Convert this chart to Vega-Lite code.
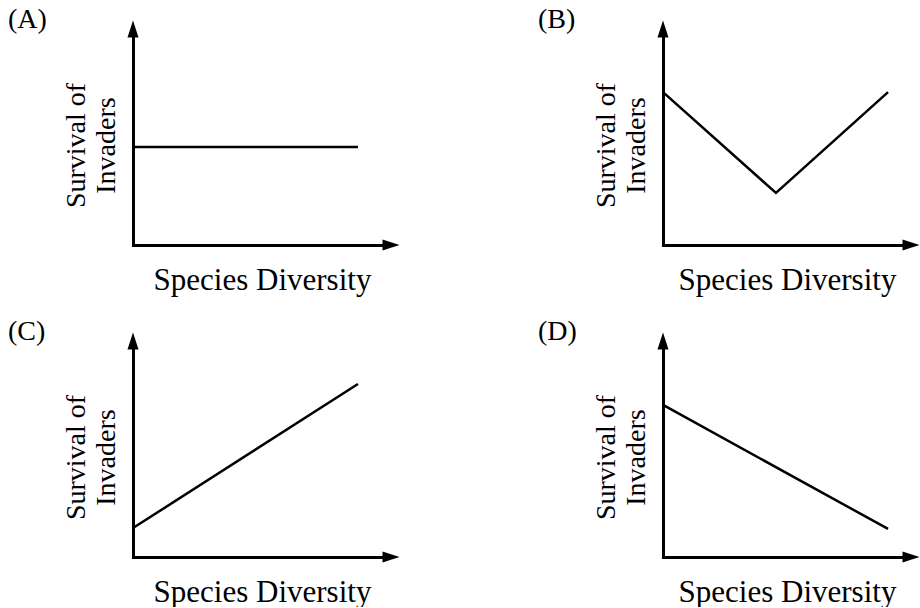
{
  "$schema": "https://vega.github.io/schema/vega-lite/v6.json",
  "background": "white",
  "padding": {"left": 8, "top": 5, "right": 0, "bottom": 0},
  "config": {
    "font": "Liberation Serif",
    "view": {"stroke": null},
    "axis": {
      "labels": false, "ticks": false, "grid": false,
      "domainColor": "black", "domainWidth": 3, "domainCap": "square",
      "titleFont": "Liberation Serif", "titleFontWeight": "normal", "titleColor": "black"
    },
    "axisX": {"titleFontSize": 31, "titlePadding": 20},
    "axisY": {"titleFontSize": 28, "titleLineHeight": 30, "titlePadding": 13, "titleY": 116},
    "title": {"anchor": "start", "frame": "group", "dx": -125, "dy": 17, "offset": 0, "fontSize": 28, "fontWeight": "normal", "font": "Liberation Serif", "color": "black", "baseline": "alphabetic"}
  },
  "data": {"values": [
    {"panel": "A", "x": 0, "y": 0.454},
    {"panel": "A", "x": 1, "y": 0.454},
    {"panel": "B", "x": 0, "y": 0.708},
    {"panel": "B", "x": 0.502, "y": 0.241},
    {"panel": "B", "x": 1, "y": 0.708},
    {"panel": "C", "x": 0, "y": 0.134},
    {"panel": "C", "x": 1, "y": 0.801},
    {"panel": "D", "x": 0, "y": 0.704},
    {"panel": "D", "x": 1, "y": 0.130}
  ]},
  "spacing": 22,
  "vconcat": [
    {"spacing": 138, "hconcat": [
      {"width": 258, "height": 216, "title": "(A)", "layer": [
        {"mark": {"type": "line", "color": "black", "strokeWidth": 2.5},
         "transform": [{"filter": "datum.panel === 'A'"}],
         "encoding": {
           "x": {"field": "x", "type": "quantitative", "scale": {"domain": [0, 1.147], "nice": false, "zero": false}, "title": "Species Diversity"},
           "y": {"field": "y", "type": "quantitative", "scale": {"domain": [0, 1], "nice": false, "zero": false}, "title": ["Survival of", "Invaders"]}}},
        {"data": {"values": [{"tip": "x"}]}, "mark": {"type": "point", "shape": "M1,0L-1,0.65L-1,-0.65Z", "filled": true, "color": "black", "opacity": 1},
         "encoding": {"x": {"datum": 1.147, "type": "quantitative"}, "y": {"datum": 0, "type": "quantitative"}, "size": {"value": 289}}},
        {"data": {"values": [{"tip": "y"}]}, "mark": {"type": "point", "shape": "M0,-1L0.65,1L-0.65,1Z", "filled": true, "color": "black", "opacity": 1},
         "encoding": {"x": {"datum": 0, "type": "quantitative"}, "y": {"datum": 1, "type": "quantitative"}, "size": {"value": 289}}}
      ]},
      {"width": 248, "height": 216, "title": "(B)", "layer": [
        {"mark": {"type": "line", "color": "black", "strokeWidth": 2.5},
         "transform": [{"filter": "datum.panel === 'B'"}],
         "encoding": {
           "x": {"field": "x", "type": "quantitative", "scale": {"domain": [0, 1.102], "nice": false, "zero": false}, "title": "Species Diversity"},
           "y": {"field": "y", "type": "quantitative", "scale": {"domain": [0, 1], "nice": false, "zero": false}, "title": ["Survival of", "Invaders"]}}},
        {"data": {"values": [{"tip": "x"}]}, "mark": {"type": "point", "shape": "M1,0L-1,0.65L-1,-0.65Z", "filled": true, "color": "black", "opacity": 1},
         "encoding": {"x": {"datum": 1.102, "type": "quantitative"}, "y": {"datum": 0, "type": "quantitative"}, "size": {"value": 289}}},
        {"data": {"values": [{"tip": "y"}]}, "mark": {"type": "point", "shape": "M0,-1L0.65,1L-0.65,1Z", "filled": true, "color": "black", "opacity": 1},
         "encoding": {"x": {"datum": 0, "type": "quantitative"}, "y": {"datum": 1, "type": "quantitative"}, "size": {"value": 289}}}
      ]}
    ]},
    {"spacing": 138, "hconcat": [
      {"width": 258, "height": 216, "title": "(C)", "layer": [
        {"mark": {"type": "line", "color": "black", "strokeWidth": 2.5},
         "transform": [{"filter": "datum.panel === 'C'"}],
         "encoding": {
           "x": {"field": "x", "type": "quantitative", "scale": {"domain": [0, 1.147], "nice": false, "zero": false}, "title": "Species Diversity"},
           "y": {"field": "y", "type": "quantitative", "scale": {"domain": [0, 1], "nice": false, "zero": false}, "title": ["Survival of", "Invaders"]}}},
        {"data": {"values": [{"tip": "x"}]}, "mark": {"type": "point", "shape": "M1,0L-1,0.65L-1,-0.65Z", "filled": true, "color": "black", "opacity": 1},
         "encoding": {"x": {"datum": 1.147, "type": "quantitative"}, "y": {"datum": 0, "type": "quantitative"}, "size": {"value": 289}}},
        {"data": {"values": [{"tip": "y"}]}, "mark": {"type": "point", "shape": "M0,-1L0.65,1L-0.65,1Z", "filled": true, "color": "black", "opacity": 1},
         "encoding": {"x": {"datum": 0, "type": "quantitative"}, "y": {"datum": 1, "type": "quantitative"}, "size": {"value": 289}}}
      ]},
      {"width": 248, "height": 216, "title": "(D)", "layer": [
        {"mark": {"type": "line", "color": "black", "strokeWidth": 2.5},
         "transform": [{"filter": "datum.panel === 'D'"}],
         "encoding": {
           "x": {"field": "x", "type": "quantitative", "scale": {"domain": [0, 1.102], "nice": false, "zero": false}, "title": "Species Diversity"},
           "y": {"field": "y", "type": "quantitative", "scale": {"domain": [0, 1], "nice": false, "zero": false}, "title": ["Survival of", "Invaders"]}}},
        {"data": {"values": [{"tip": "x"}]}, "mark": {"type": "point", "shape": "M1,0L-1,0.65L-1,-0.65Z", "filled": true, "color": "black", "opacity": 1},
         "encoding": {"x": {"datum": 1.102, "type": "quantitative"}, "y": {"datum": 0, "type": "quantitative"}, "size": {"value": 289}}},
        {"data": {"values": [{"tip": "y"}]}, "mark": {"type": "point", "shape": "M0,-1L0.65,1L-0.65,1Z", "filled": true, "color": "black", "opacity": 1},
         "encoding": {"x": {"datum": 0, "type": "quantitative"}, "y": {"datum": 1, "type": "quantitative"}, "size": {"value": 289}}}
      ]}
    ]}
  ]
}
